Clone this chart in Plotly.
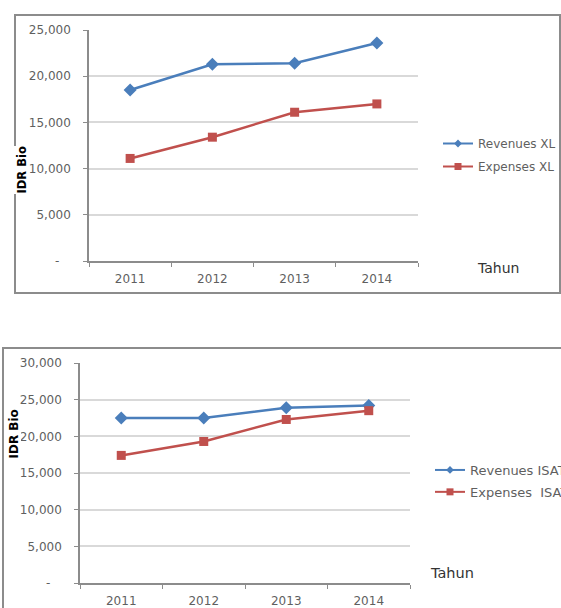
import plotly.graph_objects as go

W, H = 561, 608

years = ["2011", "2012", "2013", "2014"]

revenues_xl = [18500, 21300, 21400, 23600]
expenses_xl = [11100, 13400, 16100, 17000]

revenues_isat = [22500, 22500, 23900, 24200]
expenses_isat = [17400, 19300, 22300, 23500]

ticks_xl = [0, 5000, 10000, 15000, 20000, 25000]
ticks_isat = [0, 5000, 10000, 15000, 20000, 25000, 30000]

BLUE = "#4A7EBB"
RED = "#C0504D"
GRID = "#D9D9D9"
AXIS = "#8C8C8C"
LABEL = "#5F5F5F"
FONT = "DejaVu Sans"


def px(x):
    return x / W


def py(y):
    return 1 - y / H


def tick_text(vals):
    return ["-\u00a0\u00a0\u00a0" if v == 0 else f"{v:,}" for v in vals]


fig = go.Figure()

series = [
    ("Revenues XL", revenues_xl, BLUE, "diamond", "x", "y", "legend"),
    ("Expenses XL", expenses_xl, RED, "square", "x", "y", "legend"),
    ("Revenues ISAT", revenues_isat, BLUE, "diamond", "x2", "y2", "legend2"),
    ("Expenses  ISAT", expenses_isat, RED, "square", "x2", "y2", "legend2"),
]

for name, vals, color, symbol, xa, ya, lg in series:
    fig.add_trace(go.Scatter(
        x=years, y=vals, mode="lines+markers", name=name,
        xaxis=xa, yaxis=ya, showlegend=False,
        line=dict(color=color, width=2.5),
        marker=dict(color=color, symbol=symbol, size=10 if symbol == "diamond" else 9),
    ))
    # smaller legend glyph, as in the spreadsheet-style key
    fig.add_trace(go.Scatter(
        x=[None], y=[None], mode="lines+markers", name=name,
        xaxis=xa, yaxis=ya, legend=lg, legendgroup=name,
        line=dict(color=color, width=2),
        marker=dict(color=color, symbol=symbol, size=6 if symbol == "diamond" else 7),
    ))

xcommon = dict(
    type="category", range=[-0.5, 3.5], tickson="boundaries",
    ticks="outside", ticklen=4, tickcolor=AXIS,
    showline=True, linecolor=AXIS, linewidth=1.5, showgrid=False,
    tickfont=dict(family=FONT, size=12, color=LABEL), ticklabelstandoff=6,
)
ycommon = dict(
    ticks="outside", ticklen=4, tickcolor=AXIS,
    showline=True, linecolor=AXIS, linewidth=1.5,
    showgrid=True, gridcolor=GRID, gridwidth=1.5, zeroline=False,
    tickfont=dict(family=FONT, size=12, color=LABEL), ticklabelstandoff=10,
)

fig.update_layout(
    width=W, height=H,
    margin=dict(l=0, r=0, t=0, b=0, autoexpand=False),
    paper_bgcolor="white", plot_bgcolor="white",
    xaxis=dict(domain=[px(89), px(418)], anchor="y", **xcommon),
    yaxis=dict(domain=[py(261), py(30)], anchor="x", range=[0, 25000],
               tickvals=ticks_xl, ticktext=tick_text(ticks_xl), **ycommon),
    xaxis2=dict(domain=[px(80), px(410)], anchor="y2", **xcommon),
    yaxis2=dict(domain=[py(583), py(363)], anchor="x2", range=[0, 30000],
                tickvals=ticks_isat, ticktext=tick_text(ticks_isat), **ycommon),
    legend=dict(x=px(438), y=py(129), xanchor="left", yanchor="top",
                traceorder="grouped", tracegroupgap=4, bgcolor="rgba(0,0,0,0)",
                font=dict(family=FONT, size=12, color=LABEL)),
    legend2=dict(x=px(430), y=py(455), xanchor="left", yanchor="top",
                 traceorder="grouped", tracegroupgap=2, bgcolor="rgba(0,0,0,0)",
                 font=dict(family=FONT, size=13, color=LABEL)),
    showlegend=True,
)

# chart-area frames
fig.add_shape(type="rect", xref="paper", yref="paper",
              x0=px(15), x1=px(560), y0=py(293), y1=py(15),
              line=dict(color=AXIS, width=2), layer="below")
fig.add_shape(type="rect", xref="paper", yref="paper",
              x0=px(3), x1=px(640), y0=py(680), y1=py(348),
              line=dict(color=AXIS, width=2), layer="below")

# axis titles
for xpos, ypos, size in [(14, 146, 11.5), (5, 460, 12)]:
    fig.add_annotation(text="<b>IDR Bio</b>", xref="paper", yref="paper",
                       x=px(xpos), y=py(ypos), textangle=-90, showarrow=False,
                       bgcolor="white", borderpad=0,
                       font=dict(family=FONT, size=size, color="black"))
for xpos, ypos, size in [(475, 268, 14), (428, 573, 14.5)]:
    fig.add_annotation(text="Tahun", xref="paper", yref="paper",
                       x=px(xpos), y=py(ypos), xanchor="left", yanchor="middle",
                       showarrow=False, font=dict(family=FONT, size=size, color="#333333"))

fig.write_html("out.html")
